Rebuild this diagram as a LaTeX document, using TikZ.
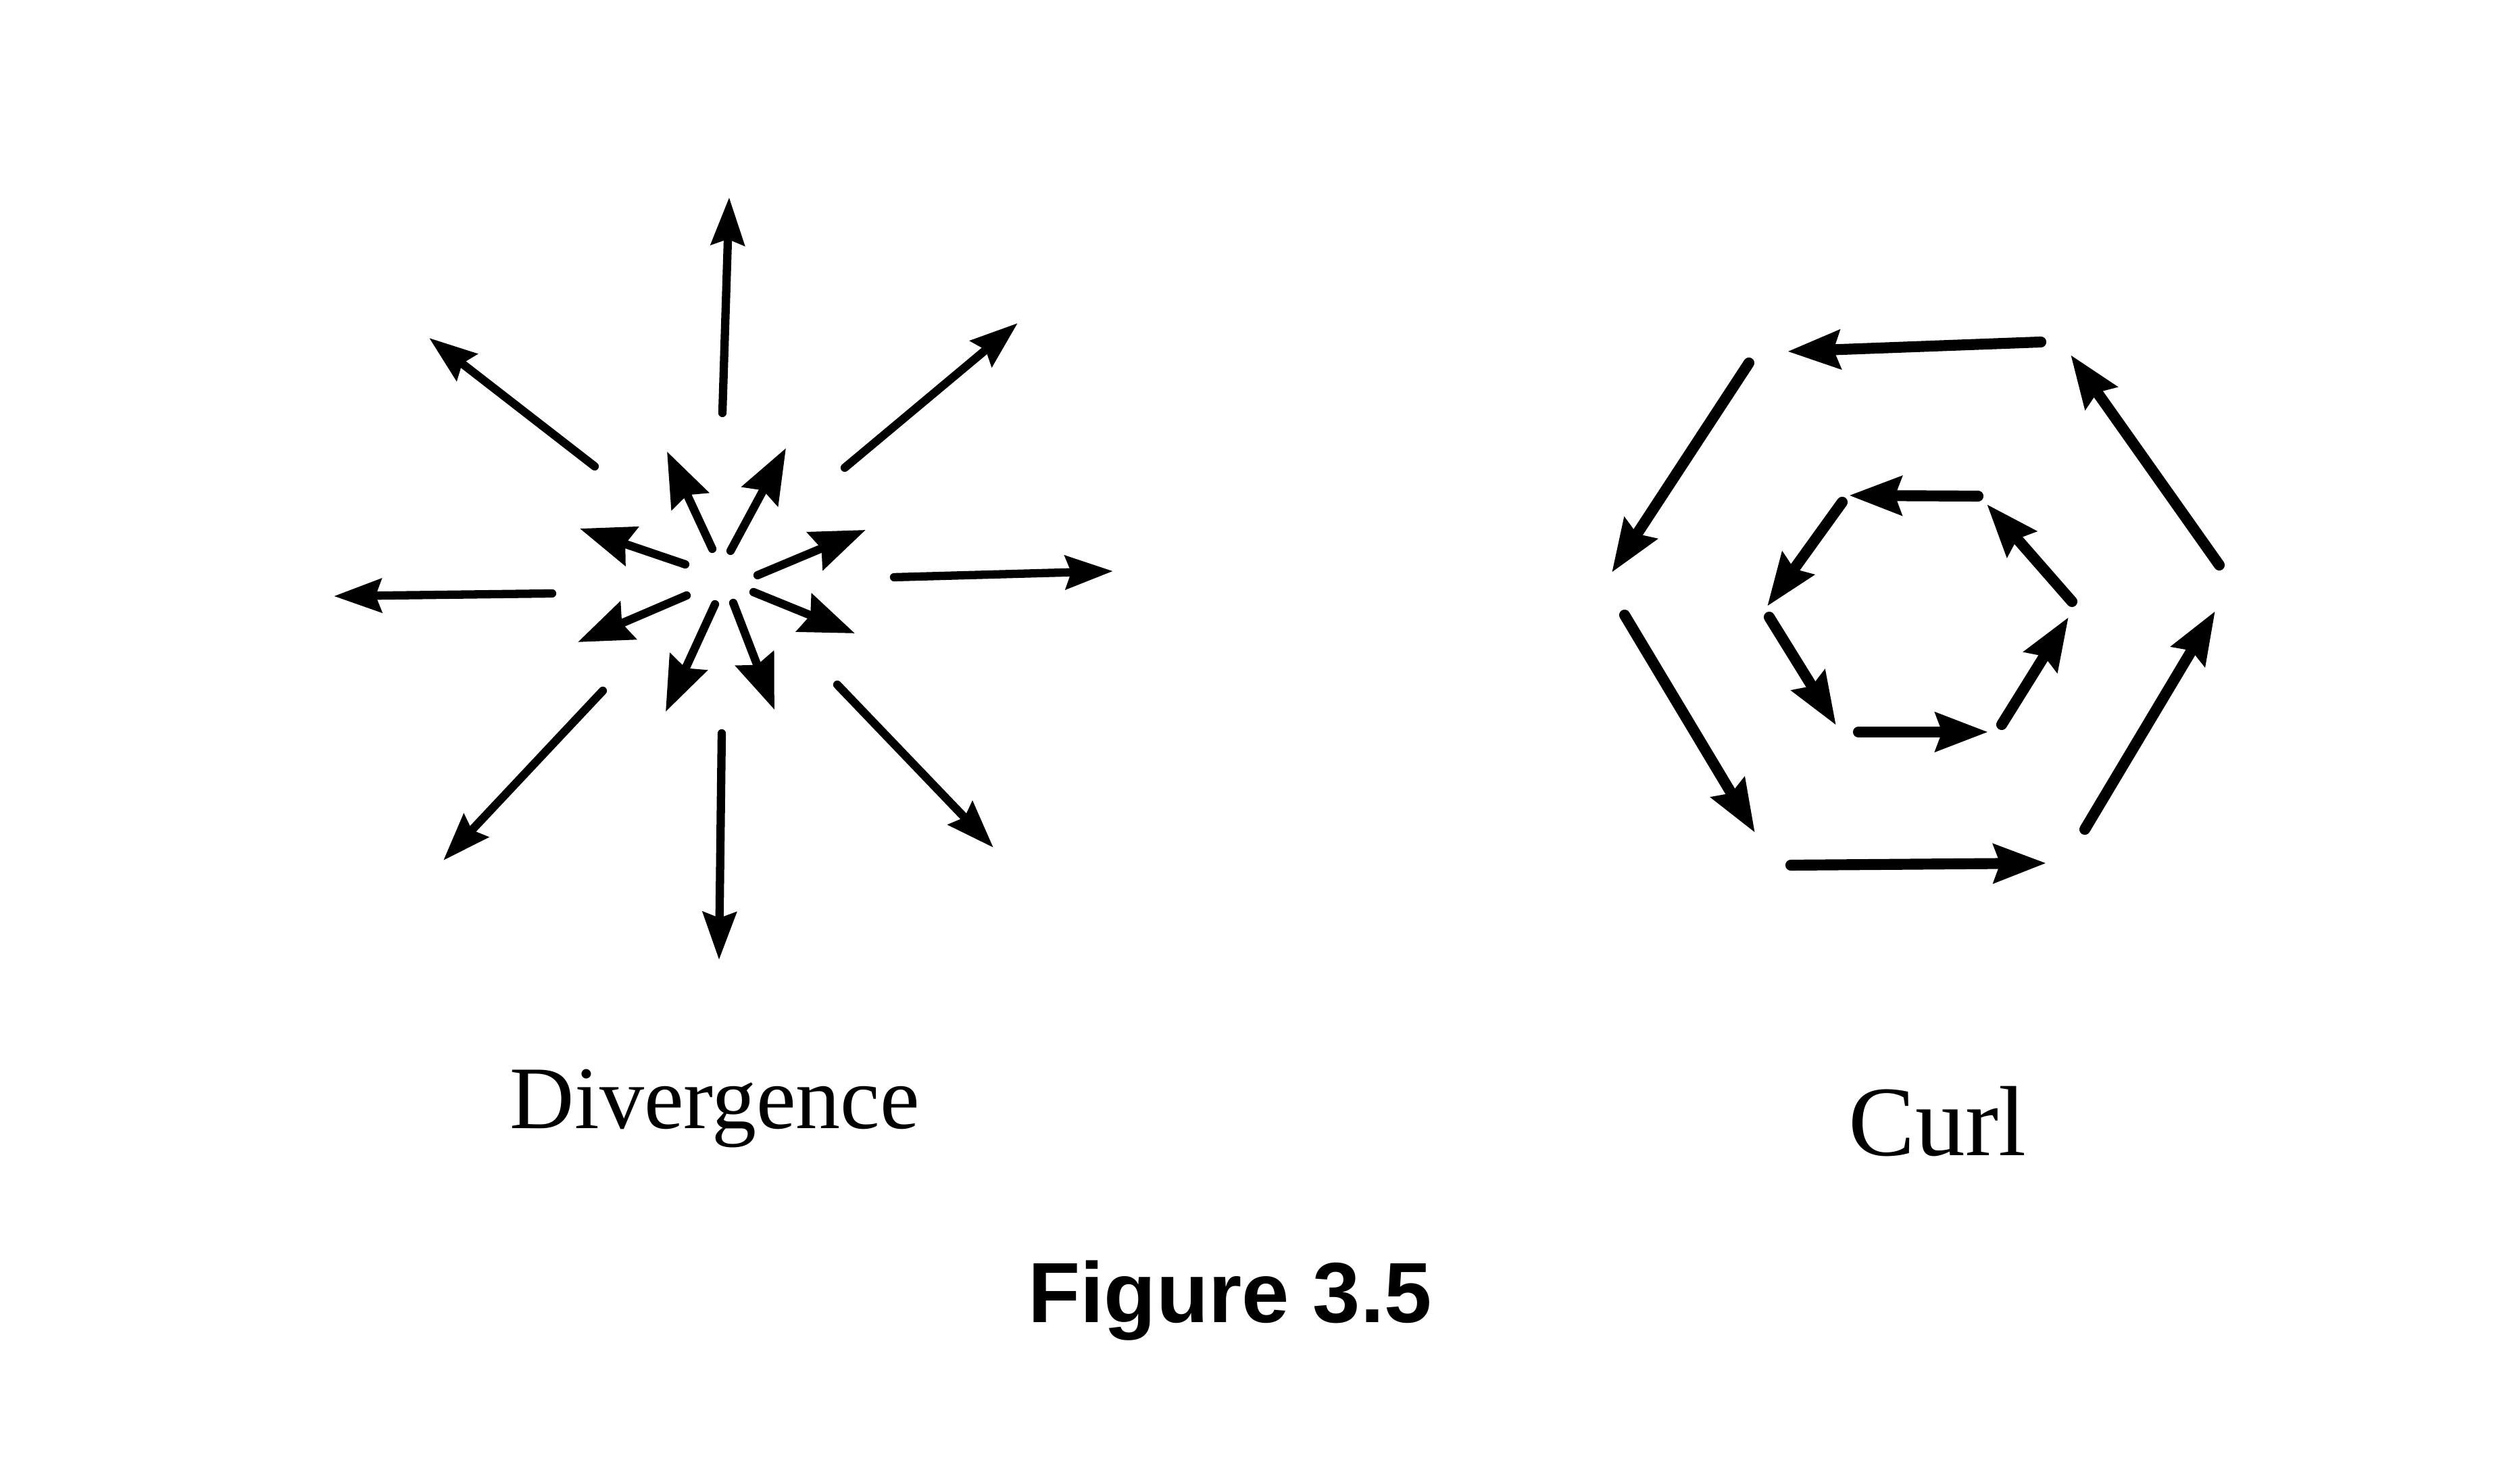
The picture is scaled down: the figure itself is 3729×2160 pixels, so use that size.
\documentclass[tikz,border=0pt]{standalone}
\usepackage{fontspec}
\setmainfont{Liberation Serif}
\newfontfamily\figfont{Liberation Sans}
\usetikzlibrary{arrows.meta}
\begin{document}
\begin{tikzpicture}[x=0.005cm,y=-0.005cm,
  divarrow/.style={line width=1.75pt, line cap=round, -{Stealth[length=10pt,width=7pt,inset=1.2pt]}},
  innerarrow/.style={line width=1.75pt, line cap=round, -{Stealth[length=11.5pt,width=8.5pt,inset=1.4pt]}},
  curlarrow/.style={line width=2.3pt, line cap=round, -{Stealth[length=11pt,width=8pt,inset=1.3pt]}},
  lbl/.style={anchor=base, inner sep=0pt}]
\useasboundingbox[fill=white] (0,0) rectangle (3729,2160);

% ---------- Divergence: outer arrows ----------
\coordinate (o1s) at (1069,611);  \coordinate (o1e) at (1079,292);
\coordinate (o2s) at (880,690);   \coordinate (o2e) at (635,500);
\coordinate (o3s) at (1250,692);  \coordinate (o3e) at (1506,478);
\coordinate (o4s) at (817,878);   \coordinate (o4e) at (494,882);
\coordinate (o5s) at (1323,854);  \coordinate (o5e) at (1647,845);
\coordinate (o6s) at (892,1022);  \coordinate (o6e) at (656,1273);
\coordinate (o7s) at (1068,1085); \coordinate (o7e) at (1064,1420);
\coordinate (o8s) at (1239,1013); \coordinate (o8e) at (1470,1254);
\foreach \i in {1,...,8} {\draw[divarrow] (o\i s) -- (o\i e);}

% ---------- Divergence: inner arrows ----------
\coordinate (i1s) at (1054,812);  \coordinate (i1e) at (987,668);
\coordinate (i2s) at (1081,815);  \coordinate (i2e) at (1163,663);
\coordinate (i3s) at (1014,835);  \coordinate (i3e) at (858,782);
\coordinate (i4s) at (1121,851);  \coordinate (i4e) at (1281,784);
\coordinate (i5s) at (1016,881);  \coordinate (i5e) at (855,950);
\coordinate (i6s) at (1115,876);  \coordinate (i6e) at (1265,937);
\coordinate (i7s) at (1058,894);  \coordinate (i7e) at (985,1053);
\coordinate (i8s) at (1085,892);  \coordinate (i8e) at (1146,1050);
\foreach \i in {1,...,8} {\draw[innerarrow] (i\i s) -- (i\i e);}

% ---------- Curl: outer hexagon ----------
\coordinate (c1s) at (3020,506);  \coordinate (c1e) at (2645,520);
\coordinate (c2s) at (2588,537);  \coordinate (c2e) at (2385,847);
\coordinate (c3s) at (2404,910);  \coordinate (c3e) at (2597,1232);
\coordinate (c4s) at (2650,1280); \coordinate (c4e) at (3028,1277);
\coordinate (c5s) at (3085,1227); \coordinate (c5e) at (3278,904);
\coordinate (c6s) at (3284,836);  \coordinate (c6e) at (3064,525);
\foreach \i in {1,...,6} {\draw[curlarrow] (c\i s) -- (c\i e);}

% ---------- Curl: inner hexagon ----------
\coordinate (h1s) at (2927,734);  \coordinate (h1e) at (2736,733);
\coordinate (h2s) at (2726,743);  \coordinate (h2e) at (2615,897);
\coordinate (h3s) at (2618,913);  \coordinate (h3e) at (2717,1073);
\coordinate (h4s) at (2750,1083); \coordinate (h4e) at (2942,1083);
\coordinate (h5s) at (2962,1072); \coordinate (h5e) at (3061,913);
\coordinate (h6s) at (3066,890);  \coordinate (h6e) at (2940,746);
\foreach \i in {1,...,6} {\draw[curlarrow] (h\i s) -- (h\i e);}

% ---------- Labels ----------
\node[lbl, font=\fontsize{18.8}{22}\selectfont] (divlabel) at (1058,1670) {Divergence};
\node[lbl, font=\fontsize{21}{24}\selectfont] (curllabel) at (2867,1710) {Curl};
\node[lbl, font=\figfont\bfseries\fontsize{18}{21}\selectfont] (figlabel) at (1820,1957) {Figure 3.5};
\end{tikzpicture}
\end{document}
